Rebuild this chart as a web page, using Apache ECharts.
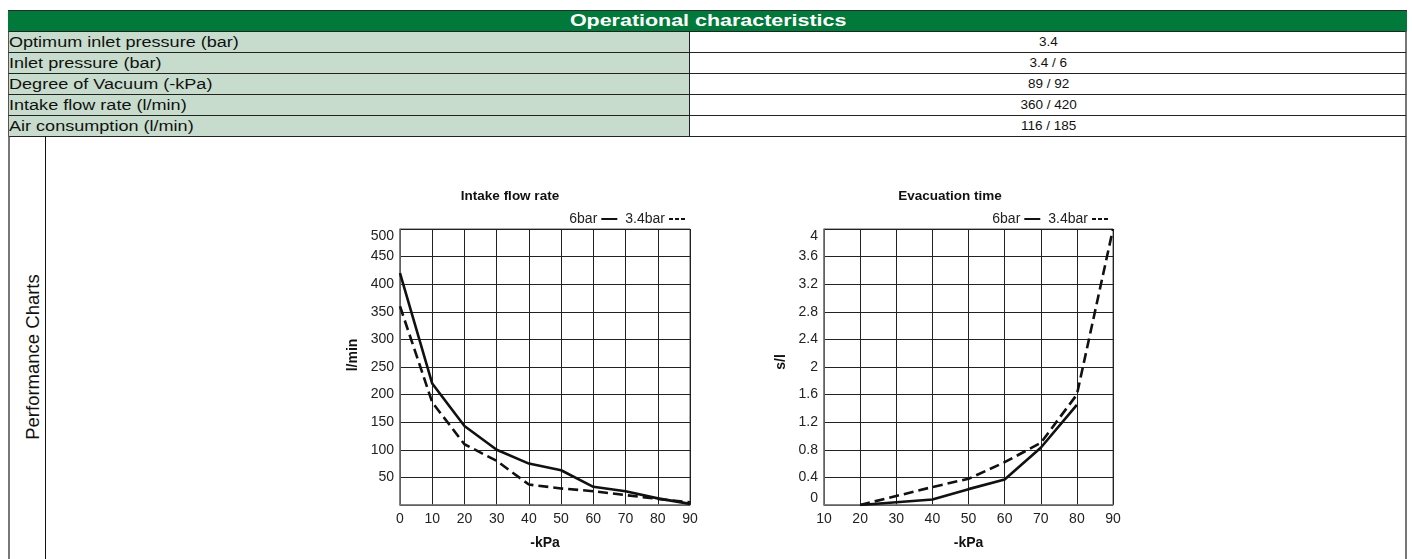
<!DOCTYPE html>
<html>
<head>
<meta charset="utf-8">
<script src="https://cdn.jsdelivr.net/npm/echarts@6/dist/echarts.min.js"></script>
<style>
  html, body { margin:0; padding:0; background:#fff; }
  body { width:1412px; height:559px; overflow:hidden; position:relative;
         font-family:'Liberation Sans', Arial, Helvetica, sans-serif; color:#111; }
  .abs { position:absolute; box-sizing:border-box; }
  .txt { position:absolute; white-space:nowrap; }
  #chart { position:absolute; left:0; top:0; width:1412px; height:559px; }
</style>
</head>
<body>
<div id="tbl"></div>
<div id="chart"></div>
<script>
// ---------- data ----------
const tableTitle = 'Operational characteristics';
const rowLabels = ['Optimum inlet pressure (bar)', 'Inlet pressure (bar)', 'Degree of Vacuum (-kPa)', 'Intake flow rate (l/min)', 'Air consumption (l/min)'];
const rowValues = ['3.4', '3.4 / 6', '89 / 92', '360 / 420', '116 / 185'];
const sectionLabel = 'Performance Charts';
const seriesNames = ['6bar', '3.4bar'];

// Intake flow rate chart
const flowKPa = [0, 10, 20, 30, 40, 50, 60, 70, 80, 90];
const flow6bar = [420, 220, 143, 100, 75, 63, 33, 25, 12, 2];
const flow34bar = [360, 186, 110, 80, 37, 30, 25, 18, 11, 5];
const flowYTicks = { min: 0, max: 500, step: 50 };

// Evacuation time chart
const evacKPa = [20, 30, 40, 50, 60, 70, 80, 90];
const evac6bar = [0, 0.04, 0.08, 0.23, 0.37, 0.83, 1.45, null];
const evac34bar = [0, 0.13, 0.26, 0.38, 0.62, 0.90, 1.60, 4.0];
const evacYTicks = { min: 0, max: 4, step: 0.4 };

// ---------- table (HTML) ----------
const T = document.getElementById('tbl');
const L = 8, R = 1407, TOP = 10, HEAD_H = 21, ROW_H = 21, SPLIT = 690;
function box(x, y, w, h, css) {
  const d = document.createElement('div');
  d.className = 'abs';
  d.style.left = x + 'px'; d.style.top = y + 'px';
  d.style.width = w + 'px'; d.style.height = h + 'px';
  Object.assign(d.style, css || {});
  T.appendChild(d);
  return d;
}
function text(str, x, y, css, anchor) {
  const s = document.createElement('span');
  s.className = 'txt';
  s.textContent = str;
  Object.assign(s.style, css || {});
  T.appendChild(s);
  const w = s.offsetWidth, h = s.offsetHeight;
  const sx = parseFloat((css && css.__sx) || 1);
  s.style.top = (y - h / 2) + 'px';
  if (anchor === 'middle') { s.style.left = (x - w / 2) + 'px'; s.style.transformOrigin = '50% 50%'; }
  else { s.style.left = x + 'px'; s.style.transformOrigin = '0 50%'; }
  return s;
}
// header band
box(L, TOP, R - L, HEAD_H, { background:'#00793a', borderTop:'1px solid #2a2a2a' });
text(tableTitle, (L + R) / 2, TOP + HEAD_H / 2 + 0.5,
  { color:'#fff', fontWeight:'bold', fontSize:'16px', lineHeight:'18px', transform:'scaleX(1.34)' }, 'middle');
rowLabels.forEach((lab, i) => {
  const y = TOP + HEAD_H + i * ROW_H;
  box(L, y, SPLIT - L, ROW_H, { background:'#c7dccd', borderTop:'1px solid #222', borderRight:'1px solid #222', borderLeft:'1px solid #555' });
  box(SPLIT, y, R - SPLIT, ROW_H, { background:'#fff', borderTop:'1px solid #222', borderRight:'2px solid #777' });
  text(lab, L + 1, y + ROW_H / 2 + 0.5, { fontSize:'14px', lineHeight:'16px', color:'#111', transform:'scaleX(1.29)' }, 'start');
  text(rowValues[i], (SPLIT + R) / 2, y + ROW_H / 2 + 0.5, { fontSize:'13.5px', lineHeight:'16px', color:'#111' }, 'middle');
});
const secTop = TOP + HEAD_H + rowLabels.length * ROW_H;
box(L, secTop, R - L, 559 - secTop + 5, { borderTop:'1px solid #222', borderLeft:'2px solid #777', borderRight:'2px solid #777' });
box(45, secTop, 1, 559 - secTop + 5, { background:'#111' });
const sec = text(sectionLabel, 33, 357, { fontSize:'18.5px', lineHeight:'22px', color:'#111' }, 'middle');
sec.style.transform = 'rotate(-90deg)';

// ---------- charts (ECharts) ----------
const chart = echarts.init(document.getElementById('chart'), null, { renderer:'canvas' });
const black = '#111';
const FONT = 'Liberation Sans, Arial, sans-serif';
const axisLabelStyle = { color:'#222', fontSize:14, fontFamily:FONT };
const nameStyle = { color:'#111', fontSize:14, fontWeight:'bold', fontFamily:FONT };

function xAxisCfg(grid, min, max) {
  return {
    type:'value', gridIndex:grid, min:min, max:max, interval:10,
    name:'-kPa', nameLocation:'middle', nameGap:31, nameTextStyle:nameStyle,
    axisLine:{ show:true, lineStyle:{ color:'#777', width:1.5 } },
    axisTick:{ show:false },
    axisLabel:Object.assign({ margin:7 }, axisLabelStyle),
    splitLine:{ show:true, lineStyle:{ color:'#222', width:1 } }
  };
}
function yAxisCfg(grid, t, name, gap, shift, fmt) {
  return {
    type:'value', gridIndex:grid, min:t.min, max:t.max, interval:t.step,
    name:name, nameLocation:'middle', nameGap:gap,
    nameTextStyle:Object.assign({ padding:[0, 0, 0, shift] }, nameStyle),
    axisLine:{ show:true, lineStyle:{ color:'#777', width:1.5 } },
    axisTick:{ show:false },
    axisLabel:Object.assign({ margin:6, formatter:fmt, verticalAlignMaxLabel:'top', verticalAlignMinLabel:'bottom' }, axisLabelStyle),
    splitLine:{ show:true, lineStyle:{ color:'#222', width:1 } }
  };
}
const solid = { color:black, width:2.6, type:'solid' };
const dashed = { color:black, width:2.6, type:[10, 5] };

const iconSolid = 'path://M0,0h16v2h-16z';
const iconDashed = 'path://M0,0h4v2h-4zM6,0h4v2h-4zM12,0h4v2h-4z';
function legendCfg(rightEdge) {
  return {
    data:[ { name:seriesNames[0], icon:iconSolid }, { name:seriesNames[1], icon:iconDashed } ],
    right:1412 - rightEdge, top:207, align:'right', itemWidth:16, itemHeight:2, itemGap:8,
    inactiveColor:'#111',
    textStyle:{ color:'#222', fontSize:14, fontFamily:FONT, padding:[0, -1, 0, 0] }
  };
}

const option = {
  animation:false,
  backgroundColor:'transparent',
  title:[
    { text:'Intake flow rate', left:505, top:184, textAlign:'center',
      textStyle:{ fontSize:13.5, fontWeight:'bold', color:'#111', fontFamily:FONT } },
    { text:'Evacuation time', left:945, top:184, textAlign:'center',
      textStyle:{ fontSize:13.5, fontWeight:'bold', color:'#111', fontFamily:FONT } }
  ],
  legend:[ legendCfg(690), legendCfg(1113) ],
  grid:[
    { left:400, width:290, top:229, height:276, show:true, borderColor:'#555', borderWidth:1 },
    { left:824, width:289, top:229, height:276, show:true, borderColor:'#555', borderWidth:1 }
  ],
  xAxis:[ xAxisCfg(0, 0, 90), xAxisCfg(1, 10, 90) ],
  yAxis:[
    yAxisCfg(0, flowYTicks, 'l/min', 40, 24, v => (v === 0 ? '' : String(v))),
    yAxisCfg(1, evacYTicks, 's/l', 36, 10, v => String(Math.round(v * 10) / 10))
  ],
  series:[
    { name:seriesNames[0], type:'line', xAxisIndex:0, yAxisIndex:0, symbol:'none', lineStyle:solid, itemStyle:{ color:black },
      data:flowKPa.map((x, i) => [x, flow6bar[i]]) },
    { name:seriesNames[1], type:'line', xAxisIndex:0, yAxisIndex:0, symbol:'none', lineStyle:dashed, itemStyle:{ color:black },
      data:flowKPa.map((x, i) => [x, flow34bar[i]]) },
    { name:seriesNames[0], type:'line', xAxisIndex:1, yAxisIndex:1, symbol:'none', lineStyle:solid, itemStyle:{ color:black },
      data:evacKPa.map((x, i) => [x, evac6bar[i]]).filter(p => p[1] != null) },
    { name:seriesNames[1], type:'line', xAxisIndex:1, yAxisIndex:1, symbol:'none', lineStyle:dashed, itemStyle:{ color:black },
      data:evacKPa.map((x, i) => [x, evac34bar[i]]) }
  ]
};
chart.setOption(option);
</script>
</body>
</html>
